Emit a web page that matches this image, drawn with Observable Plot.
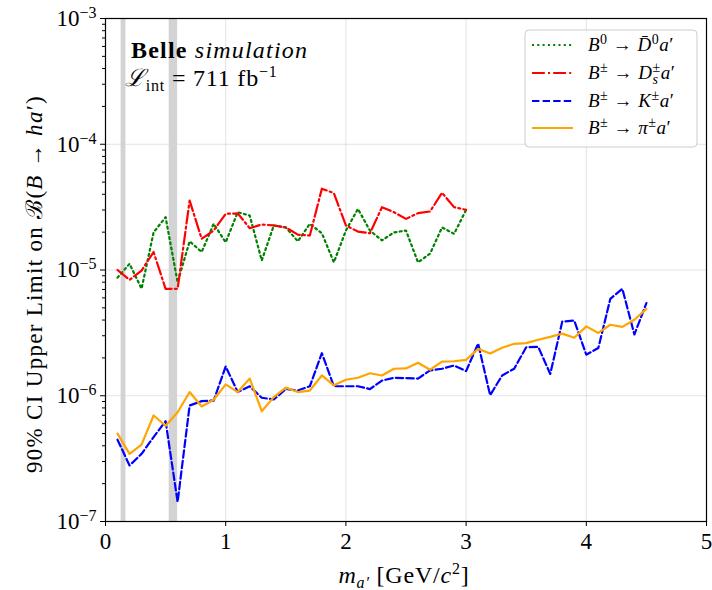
<!DOCTYPE html>
<html>
<head>
<meta charset="utf-8">
<script src="https://cdn.jsdelivr.net/npm/d3@7"></script>
<script src="https://cdn.jsdelivr.net/npm/@observablehq/plot@0.6"></script>
<style>
  body { margin: 0; background: #fff; }
  #chart { position: relative; width: 712px; height: 590px; }
  svg { font-family: "Liberation Serif", "DejaVu Serif", serif; }
</style>
</head>
<body>
<div id="chart"></div>
<script>
// ---- data ----
const massLow = [0.1,0.2,0.3,0.4,0.5,0.6,0.7,0.8,0.9,1.0,1.1,1.2,1.3,1.4,1.5,1.6,1.7,1.8,1.9,2.0,2.1,2.2,2.3,2.4,2.5,2.6,2.7,2.8,2.9,3.0];
const massAll = [0.1,0.2,0.3,0.4,0.5,0.6,0.7,0.8,0.9,1.0,1.1,1.2,1.3,1.4,1.5,1.6,1.7,1.8,1.9,2.0,2.1,2.2,2.3,2.4,2.5,2.6,2.7,2.8,2.9,3.0,3.1,3.2,3.3,3.4,3.5,3.6,3.7,3.8,3.9,4.0,4.1,4.2,4.3,4.4,4.5];

const limD0 = [8.7e-6,1.12e-5,7.1e-6,1.99e-5,2.63e-5,8.0e-6,1.69e-5,1.39e-5,2.33e-5,1.66e-5,2.88e-5,2.71e-5,1.19e-5,2.26e-5,2.18e-5,1.69e-5,2.33e-5,1.96e-5,1.15e-5,2.06e-5,3.06e-5,2.06e-5,1.72e-5,1.99e-5,2.06e-5,1.15e-5,1.35e-5,2.18e-5,1.94e-5,3.01e-5];
const limDs = [1.0e-5,8.35e-6,9.9e-6,1.39e-5,7.08e-6,7.08e-6,3.57e-5,1.77e-5,2.06e-5,2.80e-5,2.82e-5,2.15e-5,2.30e-5,2.26e-5,2.18e-5,1.91e-5,1.88e-5,4.43e-5,4.09e-5,2.26e-5,2.02e-5,1.96e-5,3.16e-5,2.88e-5,2.55e-5,2.83e-5,2.92e-5,4.11e-5,3.16e-5,3.01e-5];
const limK = [4.47e-7,2.79e-7,3.45e-7,4.69e-7,6.28e-7,1.43e-7,8.37e-7,9.06e-7,9.16e-7,1.71e-6,1.07e-6,1.19e-6,9.64e-7,9.34e-7,1.13e-6,1.10e-6,1.19e-6,2.18e-6,1.19e-6,1.19e-6,1.19e-6,1.13e-6,1.32e-6,1.39e-6,1.38e-6,1.37e-6,1.59e-6,1.64e-6,1.74e-6,1.57e-6,2.6e-6,1.01e-6,1.45e-6,1.64e-6,2.43e-6,2.45e-6,1.49e-6,3.89e-6,3.96e-6,2.12e-6,2.40e-6,5.90e-6,7.08e-6,3.07e-6,5.45e-6];
const limPi = [5.0e-7,3.45e-7,4.09e-7,6.97e-7,5.77e-7,7.40e-7,1.07e-6,8.22e-7,9.3e-7,1.23e-6,1.07e-6,1.37e-6,7.53e-7,9.75e-7,1.16e-6,1.07e-6,1.10e-6,1.45e-6,1.21e-6,1.34e-6,1.39e-6,1.51e-6,1.45e-6,1.64e-6,1.65e-6,1.83e-6,1.61e-6,1.87e-6,1.88e-6,1.93e-6,2.36e-6,2.17e-6,2.41e-6,2.59e-6,2.62e-6,2.79e-6,2.94e-6,3.12e-6,2.89e-6,3.56e-6,3.16e-6,3.67e-6,3.53e-6,4.02e-6,4.91e-6];

const vetoLo = [0.13, 0.53];
const vetoHi = [0.17, 0.60];

const xTicks = [0,1,2,3,4,5];
const yMajor = [1e-7,1e-6,1e-5,1e-4,1e-3];
const yMinor = [2e-7,3e-7,4e-7,5e-7,6e-7,7e-7,8e-7,9e-7,2e-6,3e-6,4e-6,5e-6,6e-6,7e-6,8e-6,9e-6,2e-5,3e-5,4e-5,5e-5,6e-5,7e-5,8e-5,9e-5,2e-4,3e-4,4e-4,5e-4,6e-4,7e-4,8e-4,9e-4];

// series styles
const seriesKeys = ["D0","Ds","K","Pi"];
const seriesColor = {D0:"#008000", Ds:"#ff0000", K:"#0000ff", Pi:"#ffa500"};
const seriesDash = {D0:"2,3.3", Ds:"12.8,3.2,2,3.2", K:"7.4,3.2", Pi:null};

const rows = [
  ...massLow.map((m,i)=>({m, v:limD0[i], s:"D0"})),
  ...massLow.map((m,i)=>({m, v:limDs[i], s:"Ds"})),
  ...massAll.map((m,i)=>({m, v:limK[i], s:"K"})),
  ...massAll.map((m,i)=>({m, v:limPi[i], s:"Pi"}))
];
const bands = vetoLo.map((lo,i)=>({lo, hi:vetoHi[i]}));

const FONT = '"Liberation Serif", "DejaVu Serif", serif';

const lineMarks = seriesKeys.map(k => Plot.line(rows.filter(r=>r.s===k), {
  x:"m", y:"v", stroke: seriesColor[k], strokeWidth: 2.2,
  strokeDasharray: seriesDash[k] || undefined
}));

const chart = Plot.plot({
  width: 712, height: 590,
  marginLeft: 105, marginRight: 6, marginTop: 18, marginBottom: 69,
  style: {fontFamily: FONT, fontSize: "22px", color: "#000", background: "#fff"},
  x: {domain: [0,5]},
  y: {type: "log", domain: [1e-7, 1e-3]},
  marks: [
    Plot.gridX({ticks:[1,2,3,4], stroke:"#b0b0b0", strokeOpacity:0.35, strokeWidth:1}),
    Plot.gridY({ticks:[1e-6,1e-5,1e-4], stroke:"#b0b0b0", strokeOpacity:0.35, strokeWidth:1}),
    Plot.rect(bands, {x1:"lo", x2:"hi", fill:"#d3d3d3"}),
    ...lineMarks,
    Plot.axisX({ticks: xTicks, tickSize: 5, tickPadding: 6, tickFormat: d=>String(d), label: null, fontSize: 23}),
    Plot.axisY({ticks: yMinor, tickSize: 3, tickFormat: ()=>"", label: null}),
    Plot.axisY({ticks: yMajor, tickSize: 5, tickPadding: 4, tickFormat: d=>String(Math.round(Math.log10(d))), label: null, fontSize: 23}),
    Plot.frame({stroke:"#000", strokeWidth: 1.2})
  ]
});

document.getElementById("chart").appendChild(chart);
const svg = d3.select(chart);

// y tick labels as 10^k with superscript (major ticks only)
svg.selectAll('g[aria-label="y-axis tick label"] text').each(function(){
  const t = d3.select(this);
  const raw = t.text();
  if (!raw) return;
  const e = raw.replace("-", "\u2212");
  t.text("");
  t.append("tspan").text("10");
  t.append("tspan").attr("dy","-0.5em").attr("font-size","16px").text(e);
});

// axis labels
const yl = svg.append("text")
  .attr("transform","translate(42,284) rotate(-90)")
  .attr("text-anchor","middle")
  .attr("letter-spacing","1.3px")
  .attr("font-size","23px").attr("font-family",FONT).attr("fill","#000");
yl.append("tspan").text("90% CI Upper Limit on \u212C(");
yl.append("tspan").attr("font-style","italic").text("B");
yl.append("tspan").text(" \u2192 ");
yl.append("tspan").attr("font-style","italic").text("ha");
yl.append("tspan").text("\u2032)");

const xl = svg.append("text")
  .attr("x",404).attr("y",583)
  .attr("text-anchor","middle")
  .attr("letter-spacing","0.8px")
  .attr("font-size","24px").attr("font-family",FONT).attr("fill","#000");
xl.append("tspan").attr("font-style","italic").text("m");
xl.append("tspan").attr("font-style","italic").attr("font-size","16px").attr("dy","5").text("a\u2032");
xl.append("tspan").attr("dy","-5").text(" [GeV/");
xl.append("tspan").attr("font-style","italic").text("c");
xl.append("tspan").attr("font-size","16px").attr("dy","-9").text("2");
xl.append("tspan").attr("dy","9").text("]");

// annotation
const a1 = svg.append("text").attr("x",131).attr("y",58).attr("text-anchor","start")
  .attr("font-size","24px").attr("letter-spacing","1.2px").attr("font-family",FONT).attr("fill","#000");
a1.append("tspan").attr("font-weight","bold").text("Belle");
a1.append("tspan").attr("font-style","italic").text(" simulation");
const a2 = svg.append("text").attr("x",125).attr("y",86).attr("text-anchor","start")
  .attr("font-size","24px").attr("letter-spacing","0.8px").attr("font-family",FONT).attr("fill","#000");
a2.append("tspan").attr("font-style","italic").text("\u2112");
a2.append("tspan").attr("font-size","16px").attr("dy","5").text("int");
a2.append("tspan").attr("dy","-5").text(" = 711 fb");
a2.append("tspan").attr("font-size","16px").attr("dy","-9").text("\u22121");

// legend
const lg = svg.append("g").attr("font-family",FONT).attr("font-size","19px").attr("text-anchor","start");
lg.append("rect").attr("x",525).attr("y",30).attr("width",172).attr("height",117)
  .attr("rx",4).attr("fill","#fff").attr("fill-opacity",0.85).attr("stroke","#cccccc");
const legendY = [45, 73, 101, 128];
seriesKeys.forEach((k,i)=>{
  lg.append("line").attr("x1",532).attr("x2",573).attr("y1",legendY[i]).attr("y2",legendY[i])
    .attr("stroke",seriesColor[k]).attr("stroke-width",2.2)
    .attr("stroke-dasharray", seriesDash[k] || null);
});
function legText(i){ return lg.append("text").attr("x",588).attr("y",legendY[i]+6).attr("text-anchor","start").attr("letter-spacing","0.5px").attr("fill","#000"); }
let t;
t = legText(0);
t.append("tspan").attr("font-style","italic").text("B");
t.append("tspan").attr("font-size","14px").attr("dy","-7").text("0");
t.append("tspan").attr("dy","7").text(" \u2192 ");
t.append("tspan").attr("font-style","italic").text("D\u0304");
t.append("tspan").attr("font-size","14px").attr("dy","-7").text("0");
t.append("tspan").attr("dy","7").attr("font-style","italic").text("a");
t.append("tspan").text("\u2032");

t = legText(1);
t.append("tspan").attr("font-style","italic").text("B");
t.append("tspan").attr("font-size","14px").attr("dy","-7").text("\u00B1");
t.append("tspan").attr("dy","7").text(" \u2192 ");
t.append("tspan").attr("font-style","italic").text("D");
t.append("tspan").attr("font-size","14px").attr("font-style","italic").attr("dy","5").text("s");
t.append("tspan").attr("font-size","14px").attr("dx","-6").attr("dy","-12").text("\u00B1");
t.append("tspan").attr("dy","7").attr("font-style","italic").text("a");
t.append("tspan").text("\u2032");

t = legText(2);
t.append("tspan").attr("font-style","italic").text("B");
t.append("tspan").attr("font-size","14px").attr("dy","-7").text("\u00B1");
t.append("tspan").attr("dy","7").text(" \u2192 ");
t.append("tspan").attr("font-style","italic").text("K");
t.append("tspan").attr("font-size","14px").attr("dy","-7").text("\u00B1");
t.append("tspan").attr("dy","7").attr("font-style","italic").text("a");
t.append("tspan").text("\u2032");

t = legText(3);
t.append("tspan").attr("font-style","italic").text("B");
t.append("tspan").attr("font-size","14px").attr("dy","-7").text("\u00B1");
t.append("tspan").attr("dy","7").text(" \u2192 ");
t.append("tspan").attr("font-style","italic").text("\u03C0");
t.append("tspan").attr("font-size","14px").attr("dy","-7").text("\u00B1");
t.append("tspan").attr("dy","7").attr("font-style","italic").text("a");
t.append("tspan").text("\u2032");
</script>
</body>
</html>
